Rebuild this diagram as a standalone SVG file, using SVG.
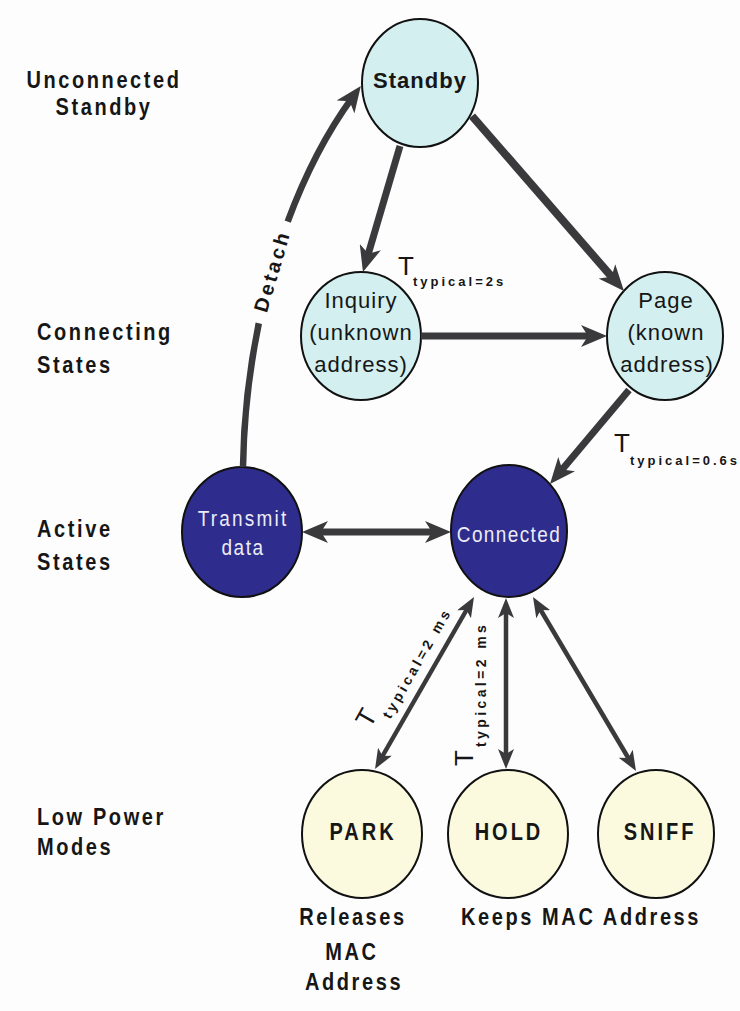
<svg xmlns="http://www.w3.org/2000/svg" width="740" height="1011" viewBox="0 0 740 1011">
<style>
text{font-family:"Liberation Sans",Arial,Helvetica,sans-serif;fill:#161616}
.lbl{font-size:20px;font-weight:bold;letter-spacing:2.6px}
.mid{text-anchor:middle}
.cy{fill:#d3efef;stroke:#111;stroke-width:2}
.dk{fill:#2e2c8c;stroke:#111;stroke-width:2}
.yl{fill:#fbf9de;stroke:#111;stroke-width:2}
.nt{font-size:22px;text-anchor:middle;letter-spacing:1px}
.wt{font-size:19px;text-anchor:middle;fill:#ececf6}
.lp{font-size:20px;font-weight:bold;letter-spacing:3px;text-anchor:middle}
.c{fill:none;stroke:#3a3a3c}
.thick{stroke-width:7}
.thin{stroke-width:4.5}
.T{font-size:26px}
.sub{font-size:13px;font-weight:bold;letter-spacing:3px}
.sub2{font-size:14px;font-weight:bold;letter-spacing:3.4px}
.det{font-size:20px;font-weight:bold;letter-spacing:3px;text-anchor:middle}
</style>
<defs>
<marker id="ah" viewBox="0 0 26 22" refX="12" refY="11" markerWidth="26" markerHeight="22" markerUnits="userSpaceOnUse" orient="auto-start-reverse"><path d="M0,0 L26,11 L0,22 L7,11 z" fill="#3a3a3c"/></marker>
<marker id="as" viewBox="0 0 20 16" refX="9" refY="8" markerWidth="20" markerHeight="16" markerUnits="userSpaceOnUse" orient="auto-start-reverse"><path d="M0,0 L20,8 L0,16 L5,8 z" fill="#3a3a3c"/></marker>
</defs>
<rect width="740" height="1011" fill="#fdfdfd"/>

<g id="level-labels">
<text class="lbl mid" transform="translate(104,88) scale(1,1.2)">Unconnected</text>
<text class="lbl mid" transform="translate(104,115) scale(1,1.2)">Standby</text>
<text class="lbl" transform="translate(37,340) scale(1,1.2)">Connecting</text>
<text class="lbl" transform="translate(37,373) scale(1,1.2)">States</text>
<text class="lbl" transform="translate(37,537) scale(1,1.2)">Active</text>
<text class="lbl" transform="translate(37,570) scale(1,1.2)">States</text>
<text class="lbl" transform="translate(37,825) scale(1,1.2)">Low Power</text>
<text class="lbl" transform="translate(37,855) scale(1,1.2)">Modes</text>
</g>

<g id="standby">
<ellipse class="cy" cx="420" cy="83" rx="58" ry="64"/>
<text class="nt" x="420" y="88" font-weight="bold">Standby</text>
</g>
<g id="inquiry">
<ellipse class="cy" cx="361" cy="336" rx="60" ry="64"/>
<text class="nt" x="361" y="308">Inquiry</text>
<text class="nt" x="361" y="340">(unknown</text>
<text class="nt" x="361" y="372">address)</text>
</g>
<g id="page">
<ellipse class="cy" cx="665" cy="336" rx="58" ry="64"/>
<text class="nt" x="666" y="308">Page</text>
<text class="nt" x="666" y="340">(known</text>
<text class="nt" x="667" y="372">address)</text>
</g>
<g id="transmit">
<ellipse class="dk" cx="242" cy="532" rx="60" ry="65"/>
<text class="wt" letter-spacing="2.2" transform="translate(243,526) scale(1,1.2)">Transmit</text>
<text class="wt" letter-spacing="1.5" transform="translate(243,555) scale(1,1.2)">data</text>
</g>
<g id="connected">
<ellipse class="dk" cx="509" cy="531" rx="58" ry="66"/>
<text class="wt" letter-spacing="1.4" transform="translate(509,542) scale(1,1.2)">Connected</text>
</g>
<g id="park">
<ellipse class="yl" cx="362" cy="834" rx="60" ry="64"/>
<text class="lp" transform="translate(363,840) scale(1,1.2)">PARK</text>
</g>
<g id="hold">
<ellipse class="yl" cx="508" cy="834" rx="60" ry="64"/>
<text class="lp" transform="translate(509,840) scale(1,1.2)">HOLD</text>
</g>
<g id="sniff">
<ellipse class="yl" cx="656" cy="834" rx="58" ry="64"/>
<text class="lp" letter-spacing="3.5" transform="translate(660,840) scale(1,1.2)">SNIFF</text>
</g>

<g id="notes">
<text class="lbl mid" transform="translate(353,925) scale(1,1.2)">Releases</text>
<text class="lbl mid" transform="translate(352,960) scale(1,1.2)">MAC</text>
<text class="lbl mid" transform="translate(354,990) scale(1,1.2)">Address</text>
<text class="lbl mid" transform="translate(581,925) scale(1,1.2)">Keeps MAC Address</text>
</g>

<g id="connectors">
<path class="c thick" d="M400,146 L366.9,258.6" marker-end="url(#ah)"/>
<path class="c" stroke-width="8" d="M472,116 L614.8,280.4" marker-end="url(#ah)"/>
<path class="c thick" d="M421,336 L593,336" marker-end="url(#ah)"/>
<path class="c thick" d="M629,390 L559,473.3" marker-end="url(#ah)"/>
<path class="c thick" d="M316,532 L437,532" marker-start="url(#ah)" marker-end="url(#ah)"/>
<path class="c thin" d="M468.5,606.5 L380.5,759.5" marker-start="url(#as)" marker-end="url(#as)"/>
<path class="c thin" d="M506,609 L506,758" marker-start="url(#as)" marker-end="url(#as)"/>
<path class="c thin" d="M538.6,606.5 L630.4,761.5" marker-start="url(#as)" marker-end="url(#as)"/>
<path class="c" stroke-width="6.5" pathLength="100" stroke-dasharray="37 27 100" d="M243,467 C245,330 285,190 352.6,97.2" marker-end="url(#ah)"/>
</g>

<g id="connector-labels">
<g transform="translate(272,271) rotate(-73.6)"><text class="det" x="0" y="7">Detach</text></g>
<text class="T" x="398" y="275">T</text>
<text class="sub" x="413" y="286">typical=2s</text>
<text class="T" x="614" y="452">T</text>
<text class="sub" x="630" y="465" letter-spacing="2.1">typical=0.6s</text>
<g transform="translate(370,729) rotate(-60.3)"><text class="T" x="0" y="0">T</text><text class="sub2" x="18" y="13">typical=2 ms</text></g>
<g transform="translate(473,766) rotate(-90)"><text class="T" x="0" y="0">T</text><text class="sub2" x="19" y="13">typical=2 ms</text></g>
</g>
</svg>
